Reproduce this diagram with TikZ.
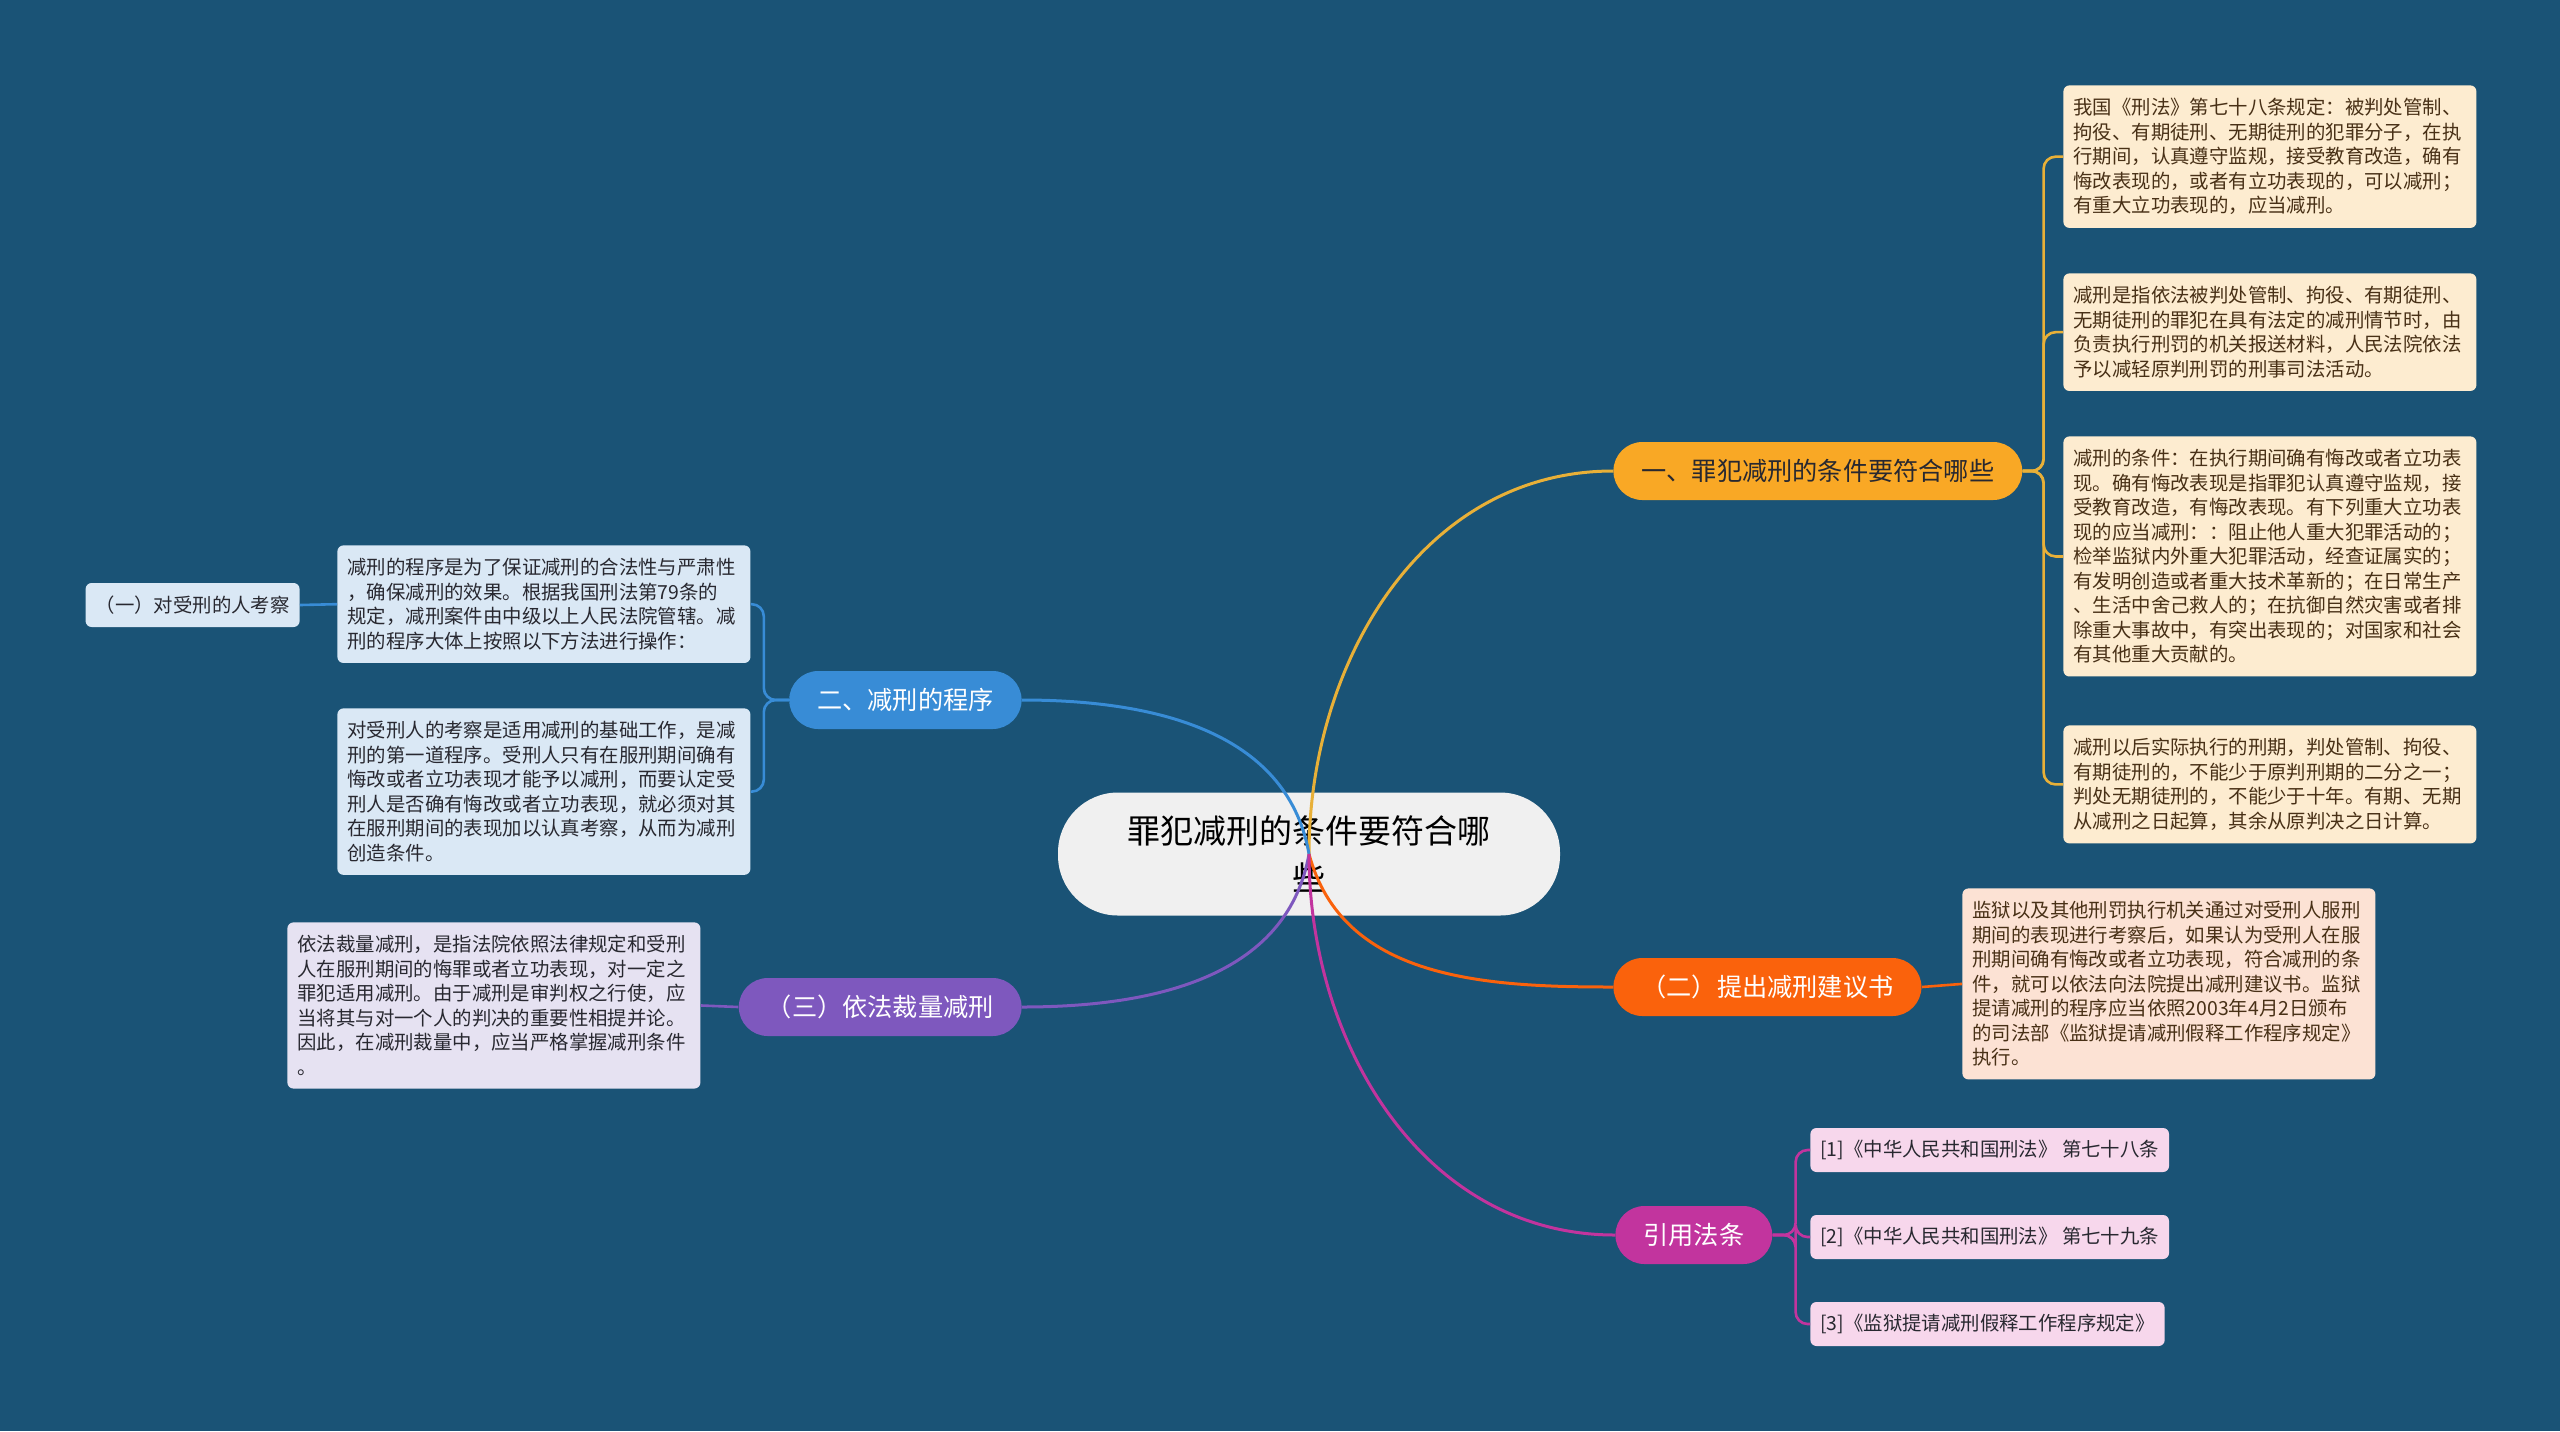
\documentclass[tikz,border=0pt]{standalone}
\usepackage{fontspec}
\newfontfamily\cjk{Noto Sans CJK SC}
\usepackage{tikz}
\usetikzlibrary{calc,positioning}

\definecolor{bgblue}{RGB}{26,83,118}
\definecolor{ctrgray}{RGB}{240,240,240}
\definecolor{gold}{RGB}{249,168,37}
\definecolor{goldline}{RGB}{232,176,56}
\definecolor{skyblue}{RGB}{56,140,214}
\definecolor{violet}{RGB}{126,88,190}
\definecolor{tangerine}{RGB}{250,98,12}
\definecolor{magenta}{RGB}{194,52,158}
\definecolor{cream}{RGB}{253,236,208}
\definecolor{iceblue}{RGB}{218,232,245}
\definecolor{lavender}{RGB}{230,226,242}
\definecolor{peach}{RGB}{252,226,212}
\definecolor{rosepink}{RGB}{247,215,236}
\definecolor{inkbrown}{RGB}{72,48,22}
\definecolor{inkdark}{RGB}{40,40,48}

\begin{document}
\begin{tikzpicture}[
    x=0.5pt, y=-0.5pt,
    topic/.style={rectangle, rounded corners=30pt, fill=ctrgray, minimum width=251pt, minimum height=61.5pt, align=center, text=black, font=\cjk\fontsize{16.5}{23.5}\selectfont},
    branch/.style={rectangle, rounded corners=14.5pt, minimum height=29pt, inner xsep=14pt, inner ysep=0pt, text=white, font=\cjk\fontsize{12.6}{15}\selectfont},
    note/.style={rectangle, rounded corners=3pt, text width=196.5pt, align=left, inner xsep=5pt, inner ysep=6.5pt, text=inkbrown, font=\cjk\fontsize{9.7}{12.25}\selectfont},
    refbox/.style={rectangle, rounded corners=3pt, minimum height=22pt, inner xsep=5pt, inner ysep=0pt, text=inkdark, font=\cjk\fontsize{9.7}{12}\selectfont},
    link/.style={line width=1.5pt},
    twig/.style={line width=1.3pt, rounded corners=6pt}
]
\fill[bgblue] (0,0) rectangle (2560,1431);

% centre
\node[topic] (Root) at (1309,854) {罪犯减刑的条件要符合哪\\些};

% main branches
\node[branch, fill=gold, text=inkdark, anchor=west] (Cond) at (1613,471) {一、罪犯减刑的条件要符合哪些};
\node[branch, fill=skyblue, anchor=east] (Proc) at (1022,700) {二、减刑的程序};
\node[branch, fill=violet, anchor=east] (Judge) at (1022,1007) {（三）依法裁量减刑};
\node[branch, fill=tangerine, anchor=west] (Propose) at (1613,987) {（二）提出减刑建议书};
\node[branch, fill=magenta, anchor=west] (Cite) at (1615,1235) {引用法条};

% notes of branch one
\node[note, fill=cream, anchor=north west] (CondA) at (2063,85) {我国《刑法》第七十八条规定：被判处管制、\\
拘役、有期徒刑、无期徒刑的犯罪分子，在执\\
行期间，认真遵守监规，接受教育改造，确有\\
悔改表现的，或者有立功表现的，可以减刑；\\
有重大立功表现的，应当减刑。};
\node[note, fill=cream, anchor=north west] (CondB) at (2063,273) {减刑是指依法被判处管制、拘役、有期徒刑、\\
无期徒刑的罪犯在具有法定的减刑情节时，由\\
负责执行刑罚的机关报送材料，人民法院依法\\
予以减轻原判刑罚的刑事司法活动。};
\node[note, fill=cream, anchor=north west] (CondC) at (2063,436) {减刑的条件：在执行期间确有悔改或者立功表\\
现。确有悔改表现是指罪犯认真遵守监规，接\\
受教育改造，有悔改表现。有下列重大立功表\\
现的应当减刑：：阻止他人重大犯罪活动的；\\
检举监狱内外重大犯罪活动，经查证属实的；\\
有发明创造或者重大技术革新的；在日常生产\\
、生活中舍己救人的；在抗御自然灾害或者排\\
除重大事故中，有突出表现的；对国家和社会\\
有其他重大贡献的。};
\node[note, fill=cream, anchor=north west] (CondD) at (2063,725) {减刑以后实际执行的刑期，判处管制、拘役、\\
有期徒刑的，不能少于原判刑期的二分之一；\\
判处无期徒刑的，不能少于十年。有期、无期\\
从减刑之日起算，其余从原判决之日计算。};

% note of the proposal
\node[note, fill=peach, anchor=north west] (ProposeA) at (1962,888) {监狱以及其他刑罚执行机关通过对受刑人服刑\\
期间的表现进行考察后，如果认为受刑人在服\\
刑期间确有悔改或者立功表现，符合减刑的条\\
件，就可以依法向法院提出减刑建议书。监狱\\
提请减刑的程序应当依照2003年4月2日颁布\\
的司法部《监狱提请减刑假释工作程序规定》\\
执行。};

% notes of the procedure
\node[note, fill=iceblue, text=inkdark, anchor=north west] (ProcA) at (337,545) {减刑的程序是为了保证减刑的合法性与严肃性\\
，确保减刑的效果。根据我国刑法第79条的\\
规定，减刑案件由中级以上人民法院管辖。减\\
刑的程序大体上按照以下方法进行操作：};
\node[note, fill=iceblue, text=inkdark, anchor=north west] (ProcB) at (337,708) {对受刑人的考察是适用减刑的基础工作，是减\\
刑的第一道程序。受刑人只有在服刑期间确有\\
悔改或者立功表现才能予以减刑，而要认定受\\
刑人是否确有悔改或者立功表现，就必须对其\\
在服刑期间的表现加以认真考察，从而为减刑\\
创造条件。};
\node[refbox, fill=iceblue, anchor=east] (Exam) at (300,605) {（一）对受刑的人考察};

% note of judging
\node[note, fill=lavender, text=inkdark, anchor=north west] (JudgeA) at (287,922) {依法裁量减刑，是指法院依照法律规定和受刑\\
人在服刑期间的悔罪或者立功表现，对一定之\\
罪犯适用减刑。由于减刑是审判权之行使，应\\
当将其与对一个人的判决的重要性相提并论。\\
因此，在减刑裁量中，应当严格掌握减刑条件\\
。};

% cited laws
\node[refbox, fill=rosepink, anchor=west] (CiteA) at (1810,1150) {[1]《中华人民共和国刑法》 第七十八条};
\node[refbox, fill=rosepink, anchor=west] (CiteB) at (1810,1237) {[2]《中华人民共和国刑法》 第七十九条};
\node[refbox, fill=rosepink, anchor=west] (CiteC) at (1810,1324) {[3]《监狱提请减刑假释工作程序规定》};

% links from the centre
\draw[link, goldline] (Root.center) to[out=90, in=180] (Cond.west);
\draw[link, skyblue] (Root.center) to[out=100, in=0] (Proc.east);
\draw[link, violet] (Root.center) to[out=-100, in=0] (Judge.east);
\draw[link, tangerine] (Root.center) to[out=-75, in=180] (Propose.west);
\draw[link, magenta] (Root.center) to[out=-90, in=180] (Cite.west);

% twigs
\foreach \n in {CondA,CondB,CondC,CondD}
  \draw[twig, goldline] (Cond.east) -- ++(21,0) |- (\n.west);
\foreach \n in {ProcA,ProcB}
  \draw[twig, skyblue] (Proc.west) -- ++(-25,0) |- (\n.east);
\draw[twig, skyblue] (ProcA.west) -- (Exam.east);
\draw[twig, violet] (Judge.west) -- (JudgeA.east);
\draw[twig, tangerine] (Propose.east) -- (ProposeA.west);
\foreach \n in {CiteA,CiteB,CiteC}
  \draw[twig, magenta] (Cite.east) -- ++(23,0) |- (\n.west);
\end{tikzpicture}
\end{document}
